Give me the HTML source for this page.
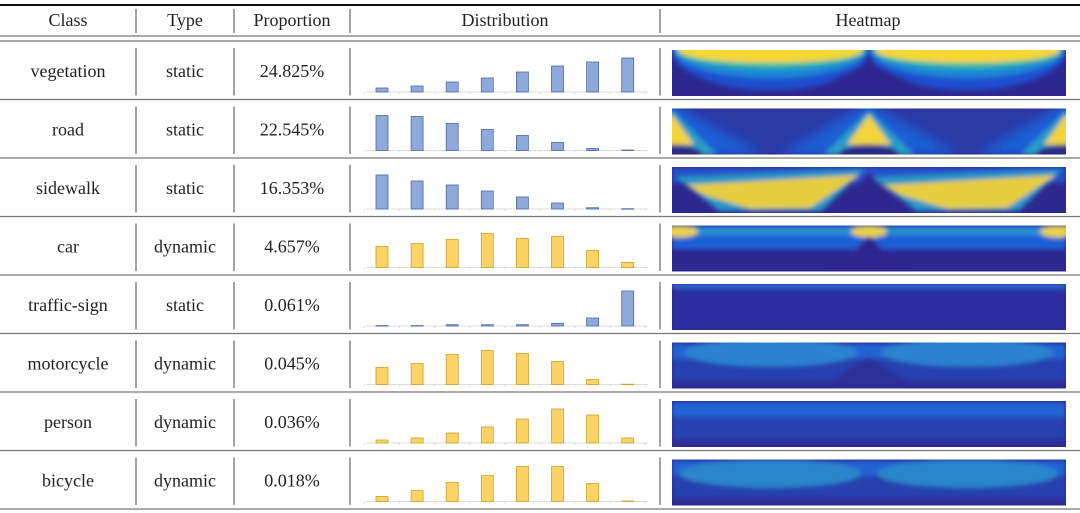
<!DOCTYPE html>
<html><head><meta charset="utf-8">
<style>
html,body{margin:0;padding:0;background:#fff;}
body{width:1080px;height:513px;overflow:hidden;position:relative;}
svg{position:absolute;left:0;top:0;}
text{font-family:"Liberation Serif",serif;font-size:18px;fill:#222;}
</style></head>
<body>
<svg id="chart" width="1080" height="513"></svg>
<script>
const classes=["vegetation","road","sidewalk","car","traffic-sign","motorcycle","person","bicycle"];
const types=["static","static","static","dynamic","static","dynamic","dynamic","dynamic"];
const proportions=["24.825%","22.545%","16.353%","4.657%","0.061%","0.045%","0.036%","0.018%"];
const distVegetation=[4,6,10,14,20,26,30,34];
const distRoad=[35,34,27,21,15,8,2,0.5];
const distSidewalk=[34,28,24,18,12,6,1.3,0.3];
const distCar=[21,24,28,34,29,31,17,5];
const distTrafficSign=[0.4,0.4,1.3,1.3,1.3,2.7,8,35];
const distMotorcycle=[17,21,30,34,31,23,5,0.3];
const distPerson=[3,5,10,16,24,34,28,5];
const distBicycle=[5,11,19,26,35,35,18,0.5];
const distributions=[distVegetation,distRoad,distSidewalk,distCar,distTrafficSign,distMotorcycle,distPerson,distBicycle];
const headers=["Class","Type","Proportion","Distribution","Heatmap"];

const NS="http://www.w3.org/2000/svg";
const svg=document.getElementById('chart');
function mk(tag,attrs,parent){const e=document.createElementNS(NS,tag);for(const k in attrs)e.setAttribute(k,attrs[k]);(parent||svg).appendChild(e);return e;}
const rowTop=i=>41+i*58.5;
const ROWH=58.5;
const xBar=j=>382+j*35.1;
const yBar=(v,i)=>rowTop(i)+51-v*1.0;

const defs=mk('defs',{});
const f=mk('filter',{id:'blur',x:'-20%',y:'-50%',width:'140%',height:'200%'},defs);
mk('feGaussianBlur',{stdDeviation:'2.5'},f);
const f2=mk('filter',{id:'blur2',x:'-20%',y:'-50%',width:'140%',height:'200%'},defs);
mk('feGaussianBlur',{stdDeviation:'5'},f2);

let l=mk('line',{x1:0,y1:5,x2:1080,y2:5,stroke:'#111','stroke-width':2});


[36,41].forEach(y=>{const h=mk('line',{x1:0,y1:y,x2:1080,y2:y,stroke:'#777','stroke-width':1.3});

});
const colCenters=[68,185,292,505,868];
headers.forEach((h,k)=>{const t=mk('text',{x:colCenters[k],y:26,'text-anchor':'middle'});t.textContent=h;

});
const seps=[136,234,350,660];
seps.forEach(x=>{const s=mk('line',{x1:x,y1:9,x2:x,y2:33,stroke:'#666','stroke-width':1.2});

});

const W=394,H=46;
function heatmap(i,g){
  const x0=672,y0=rowTop(i)+9;
  const cp=mk('clipPath',{id:'cp'+i},defs);
  mk('rect',{x:x0,y:y0,width:W,height:H},cp);
  const gg=mk('g',{'clip-path':'url(#cp'+i+')'},g);
  const dark='#2d2890';
  mk('rect',{x:x0,y:y0,width:W,height:H,fill:dark},gg);
  const b=mk('g',{filter:'url(#blur)'},gg);
  const cx=[x0+W*0.25,x0+W*0.75];
  if(i===0){
    cx.forEach(c=>{
      mk('ellipse',{cx:c,cy:y0,rx:W*0.25,ry:40,fill:'#1f4fd0'},b);
      mk('ellipse',{cx:c,cy:y0,rx:W*0.245,ry:28,fill:'#1c86d6'},b);
      mk('ellipse',{cx:c,cy:y0,rx:W*0.24,ry:19,fill:'#33b8a8'},b);
      mk('ellipse',{cx:c,cy:y0,rx:W*0.235,ry:13,fill:'#f5d735'},b);
    });
    mk('polygon',{points:`${x0+W/2-70},${y0+H} ${x0+W/2},${y0+12} ${x0+W/2+70},${y0+H}`,fill:dark},b);
    mk('rect',{x:x0,y:y0+H-6,width:W,height:6,fill:dark},b);
  } else if(i===1){
    mk('rect',{x:x0,y:y0,width:W,height:H,fill:'#2a3aa8'},b);
    [x0,x0+W/2,x0+W].forEach(c=>{
      mk('polygon',{points:`${c},${y0-5} ${c-90},${y0+H} ${c+90},${y0+H}`,fill:'#1e5fd6',filter:'url(#blur2)'},b);
      mk('polygon',{points:`${c},${y0+2} ${c-45},${y0+H} ${c+45},${y0+H}`,fill:'#2a9cc8'},b);
      mk('polygon',{points:`${c},${y0+6} ${c-22},${y0+36} ${c+22},${y0+36}`,fill:'#f2d43a'},b);
      mk('ellipse',{cx:c,cy:y0+H,rx:30,ry:10,fill:'#2a2a88'},b);
    });
  } else if(i===2){
    mk('rect',{x:x0,y:y0,width:W,height:16,fill:'#2550c8'},b);
    [0,1].forEach(k=>{
      const a=x0+k*W/2;
      mk('polygon',{points:`${a+4},${y0+10} ${a+W/2-4},${y0+2} ${a+W*0.38},${y0+H-2} ${a+W*0.12},${y0+H-2}`,fill:'#2596c8'},b);
      mk('polygon',{points:`${a+14},${y0+18} ${a+W/2-10},${y0+8} ${a+W*0.35},${y0+H-5} ${a+W*0.2},${y0+H-4} ${a+W*0.08},${y0+28}`,fill:'#e6cd40'},b);
    });
    mk('polygon',{points:`${x0+W/2-40},${y0+H} ${x0+W/2},${y0+6} ${x0+W/2+40},${y0+H}`,fill:dark},b);
  } else if(i===3){
    mk('rect',{x:x0,y:y0,width:W,height:24,fill:'#1f5ed5'},b);
    mk('rect',{x:x0,y:y0+2,width:W,height:8,fill:'#2a8ed0'},b);
    [x0+8,x0+W/2,x0+W-8].forEach(c=>{mk('ellipse',{cx:c,cy:y0+6,rx:18,ry:6,fill:'#e8d24a'},b);});
    mk('polygon',{points:`${x0+W/2-35},${y0+H} ${x0+W/2},${y0+10} ${x0+W/2+35},${y0+H}`,fill:dark},b);
  } else if(i===4){
    mk('rect',{x:x0,y:y0,width:W,height:H,fill:'#2a2fa0'},b);
    mk('rect',{x:x0,y:y0,width:W,height:4,fill:'#2f70d8'},b);
  } else {
    mk('rect',{x:x0,y:y0,width:W,height:H,fill:'#2740b0'},b);
    mk('rect',{x:x0,y:y0+2,width:W,height:14,fill:'#2464d4'},b);
    if(i===5){cx.forEach(c=>mk('ellipse',{cx:c,cy:y0+10,rx:W*0.22,ry:14,fill:'#2a82d0'},b));
      mk('polygon',{points:`${x0+W/2-50},${y0+H} ${x0+W/2},${y0+14} ${x0+W/2+50},${y0+H}`,fill:'#2a3098'},b);}
    if(i===7){cx.forEach(c=>mk('ellipse',{cx:c,cy:y0+14,rx:W*0.23,ry:14,fill:'#2a86cc'},b));}
    mk('rect',{x:x0,y:y0+H-8,width:W,height:8,fill:'#2d2f98'},b);
  }
}

for(let i=0;i<8;i++){
  const g=mk('g',{});
  
  
  const t=rowTop(i), cy=t+36;
  const vals=[classes[i],types[i],proportions[i]];
  vals.forEach((v,k)=>{const tx=mk('text',{x:colCenters[k],y:cy,'text-anchor':'middle'},g);tx.textContent=v;
    
    });
  seps.forEach(x=>{const s=mk('line',{x1:x,y1:t+7,x2:x,y2:t+ROWH-4,stroke:'#666','stroke-width':1.2},g);
    
    });
  const rl=mk('line',{x1:0,y1:t+ROWH,x2:1080,y2:t+ROWH,stroke:'#777','stroke-width':1.3},g);
  
  
  const base=yBar(0,i);
  const ax=mk('line',{x1:366,y1:base,x2:648,y2:base,stroke:'#ddd','stroke-width':1},g);
  
  
  for(let j=0;j<=8;j++){const tk=mk('line',{x1:xBar(j)-17.5,y1:base,x2:xBar(j)-17.5,y2:base+2,stroke:'#ddd'},g);
    
    }
  const dyn=types[i]==='dynamic';
  const fill=dyn?'#fdd365':'#8ea9dc', stroke=dyn?'#c9a227':'#4f69a8';
  distributions[i].forEach((v,j)=>{
    const y=yBar(v,i);
    const r=mk('rect',{x:xBar(j)-6,y:y,width:12,height:Math.max(base-y,0.5),fill:fill,stroke:stroke,'stroke-width':0.8},g);
    
    
  });
  const hg=mk('g',{},g);
  
  
  heatmap(i,hg);
}
</script>
</body></html>
